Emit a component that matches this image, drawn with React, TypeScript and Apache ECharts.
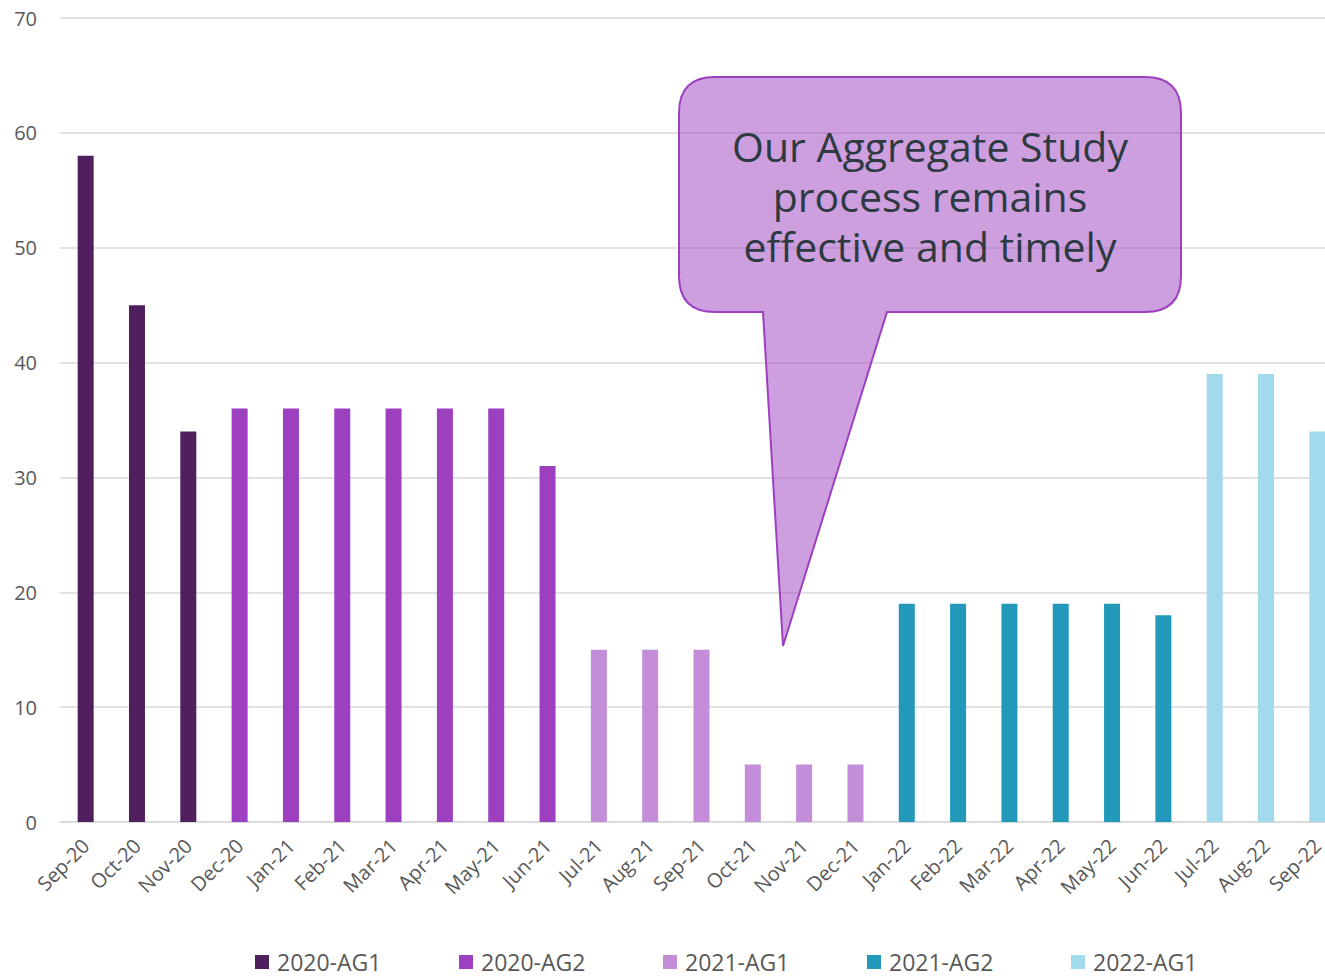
import React, { useEffect, useRef } from "react";
import * as echarts from "echarts";

const categories = [
  "Sep-20", "Oct-20", "Nov-20", "Dec-20", "Jan-21", "Feb-21", "Mar-21", "Apr-21", "May-21",
  "Jun-21", "Jul-21", "Aug-21", "Sep-21", "Oct-21", "Nov-21", "Dec-21", "Jan-22", "Feb-22",
  "Mar-22", "Apr-22", "May-22", "Jun-22", "Jul-22", "Aug-22", "Sep-22",
];

const seriesNames = ["2020-AG1", "2020-AG2", "2021-AG1", "2021-AG2", "2022-AG1"];
const seriesColors = ["#501F5E", "#9D40C0", "#C48DDA", "#2299BA", "#A0DAEC"];

// start index of each series in categories, and its values
const ag2020_1 = [58, 45, 34];
const ag2020_2 = [36, 36, 36, 36, 36, 36, 31];
const ag2021_1 = [15, 15, 15, 5, 5, 5];
const ag2021_2 = [19, 19, 19, 19, 19, 18];
const ag2022_1 = [39, 39, 34];
const seriesStarts = [0, 3, 10, 16, 22];
const seriesValues = [ag2020_1, ag2020_2, ag2021_1, ag2021_2, ag2022_1];

const yTicks = { min: 0, max: 70, interval: 10 };

const calloutLines = ["Our Aggregate Study", "process remains", "effective and timely"];

const FONT = "'Open Sans', 'Noto Sans', sans-serif";

let shapeRegistered = false;

export default function App() {
  const ref = useRef<HTMLDivElement>(null);

  useEffect(() => {
    if (!ref.current) return;
    if (!shapeRegistered) {
      const d =
        "M 715 77 L 1145 77 Q 1181 77 1181 113 L 1181 276 Q 1181 312 1145 312 L 887 312 L 783 646 L 763 312 L 715 312 Q 679 312 679 276 L 679 113 Q 679 77 715 77 Z";
      echarts.graphic.registerShape("callout", (echarts.graphic as any).extendPath(d, {}));
      shapeRegistered = true;
    }
    const chart = echarts.init(ref.current, undefined, { renderer: "svg" });

    const series = seriesNames.map((name, si) => {
      const data = categories.map((_, ci) => {
        const k = ci - seriesStarts[si];
        return k >= 0 && k < seriesValues[si].length ? seriesValues[si][k] : "-";
      });
      return {
        name,
        type: "bar",
        stack: "all",
        barWidth: 16,
        data,
        itemStyle: { color: seriesColors[si] },
      };
    });

    const legends = seriesNames.map((name, i) => ({
      data: [name],
      left: 255 + 204 * i,
      top: 950,
      padding: 0,
      icon: "rect",
      itemWidth: 14,
      itemHeight: 14,
      selectedMode: false,
      textStyle: { fontSize: 23, color: "#595959", fontFamily: FONT, padding: [0, 0, 0, 3], lineHeight: 24 },
    }));

    chart.setOption({
      animation: false,
      backgroundColor: "#ffffff",
      grid: { left: 60, right: 0, top: 18, bottom: 154, containLabel: false },
      legend: legends,
      xAxis: {
        type: "category",
        data: categories,
        axisLine: { show: true, lineStyle: { color: "#d9d9d9", width: 1.5 } },
        axisTick: { show: false },
        axisLabel: {
          rotate: 45,
          interval: 0,
          fontSize: 20,
          color: "#595959",
          fontFamily: FONT,
          margin: 20,
        },
      },
      yAxis: {
        type: "value",
        min: yTicks.min,
        max: yTicks.max,
        interval: yTicks.interval,
        axisLine: { show: false },
        axisTick: { show: false },
        splitLine: { lineStyle: { color: "#d9d9d9", width: 1.5 } },
        axisLabel: { fontSize: 20, color: "#595959", fontFamily: FONT, margin: 23 },
      },
      series,
      graphic: [
        {
          type: "callout",
          x: 0,
          y: 0,
          z: 100,
          style: { fill: "rgba(158,63,192,0.5)", stroke: "#9D40C0", lineWidth: 2 },
        },
        {
          type: "text",
          x: 930,
          y: 196,
          z: 101,
          style: {
            text: calloutLines.join("\n"),
            fill: "#2d3a42",
            fontSize: 41,
            lineHeight: 50,
            fontFamily: FONT,
            textAlign: "center",
            textVerticalAlign: "middle",
          },
        },
      ],
    });

    return () => chart.dispose();
  }, []);

  return (
    <div style={{ position: "fixed", left: 0, top: 0, width: 1325, height: 976, overflow: "hidden", background: "#fff" }}>
      <div ref={ref} style={{ width: 1343, height: 976 }} />
    </div>
  );
}
